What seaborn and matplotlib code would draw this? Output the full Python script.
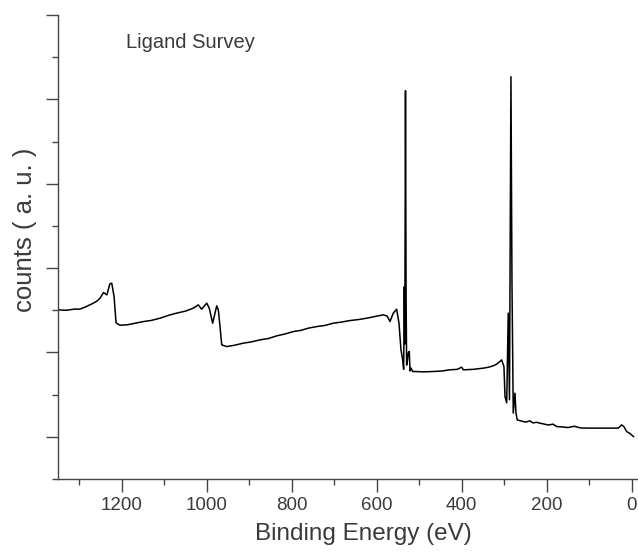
import matplotlib
matplotlib.use("Agg")
import matplotlib.pyplot as plt
import seaborn as sns
import pandas as pd
from matplotlib.ticker import MultipleLocator

# Binding energy (eV) and counts (a.u.)
binding_energy = [
    1350, 1330, 1310, 1299, 1285, 1267, 1258, 1251, 1243, 1235, 1228, 1223.5,
    1218, 1213.4, 1204, 1188, 1170, 1149, 1130, 1110, 1090, 1071, 1050, 1031.5,
    1020, 1012, 1000, 994, 986, 980.5, 976.5, 972.7, 968.7, 964.7, 953, 935,
    914, 895, 875, 855, 835, 815, 796, 778, 761, 741, 722, 702, 683, 663, 643,
    623.5, 605, 584.5, 575, 568.7, 561, 553, 547.5, 542.8, 538.8, 536.5, 535.0,
    533.8, 532.2, 530.8, 529.5, 528.0, 525.5, 523.3, 521.5, 519.3, 515, 510,
    490, 467, 447, 428, 410, 400, 396, 372, 349, 337, 326, 318, 310, 306, 300.5,
    298, 294, 290.4, 287.5, 284.0, 281.6, 278.6, 274.6, 272.2, 269.2, 262, 255,
    248, 240, 232, 224, 216, 205, 196, 185, 176.5, 165, 150, 135, 120, 98, 80,
    60, 45, 31.5, 23.5, 18, 11.8, 4, -5,
]
counts = [
    2.505, 2.500, 2.515, 2.513, 2.540, 2.584, 2.610, 2.643, 2.710, 2.682, 2.813, 2.821,
    2.662, 2.351, 2.323, 2.327, 2.345, 2.366, 2.380, 2.406, 2.440, 2.466, 2.490, 2.525,
    2.564, 2.513, 2.584, 2.525, 2.347, 2.466, 2.552, 2.505, 2.307, 2.090, 2.070, 2.085,
    2.110, 2.125, 2.149, 2.165, 2.197, 2.220, 2.248, 2.262, 2.288, 2.307, 2.320, 2.347, 2.360, 2.378, 2.390,
    2.406, 2.425, 2.446, 2.430, 2.366, 2.466, 2.513, 2.347, 2.031, 1.912, 1.800, 2.780,
    2.100, 5.103, 2.660, 1.850, 1.890, 2.000, 2.011, 1.780, 1.814, 1.774, 1.774,
    1.770, 1.774, 1.780, 1.794, 1.800, 1.826, 1.794, 1.800, 1.814, 1.825, 1.841, 1.860, 1.892, 1.912, 1.833,
    1.477, 1.403, 2.466, 1.440, 5.269, 2.821, 1.281, 1.518, 1.284, 1.201, 1.190, 1.181,
    1.175, 1.190, 1.165, 1.172, 1.162, 1.150, 1.140, 1.150, 1.122, 1.118, 1.110, 1.125, 1.105, 1.103, 1.103,
    1.103, 1.103, 1.103, 1.142, 1.120, 1.063, 1.040, 1.000,
]

x_major_ticks = [0, 200, 400, 600, 800, 1000, 1200]
x_tick_labels = ["0", "200", "400", "600", "800", "1000", "1200"]

df = pd.DataFrame({"be": binding_energy, "counts": counts})

sns.set_style("ticks")
plt.rcParams["font.family"] = ["Liberation Sans", "DejaVu Sans"]

fig = plt.figure(figsize=(6.38, 5.52), dpi=100)
ax = fig.add_axes([58 / 638, 73 / 552, 580 / 638, 464 / 552])

sns.lineplot(data=df, x="be", y="counts", ax=ax, color="black", lw=1.1,
             sort=False, estimator=None)

ax.set_xlim(1350, -15)
ax.set_ylim(0.5, 6.0)

ax.set_xticks(x_major_ticks)
ax.set_xticklabels(x_tick_labels)
ax.xaxis.set_minor_locator(MultipleLocator(100))
ax.yaxis.set_major_locator(MultipleLocator(1))
ax.yaxis.set_minor_locator(MultipleLocator(0.5))
ax.set_yticklabels([])

spine_col = "#444444"
text_col = "#3a3a3a"
for s in ["top", "right"]:
    ax.spines[s].set_visible(False)
for s in ["left", "bottom"]:
    ax.spines[s].set_color(spine_col)
    ax.spines[s].set_linewidth(1.0)

ax.tick_params(axis="both", which="major", direction="out", length=9,
               width=1.0, color=spine_col, labelsize=13.5, labelcolor=text_col, pad=4)
ax.tick_params(axis="both", which="minor", direction="out", length=4,
               width=1.0, color=spine_col)

ax.set_xlabel("Binding Energy (eV)", fontsize=17.5, color=text_col)
ax.xaxis.set_label_coords(0.526, -0.095)
ax.set_ylabel("counts ( a. u. )", fontsize=18.5, color=text_col)
ax.yaxis.set_label_coords(-0.036, 0.537)
ax.text(0.118, 0.94, "Ligand Survey", transform=ax.transAxes, fontsize=14.5,
        color=text_col, ha="left", va="center")

fig.savefig("out.png", dpi=100)
